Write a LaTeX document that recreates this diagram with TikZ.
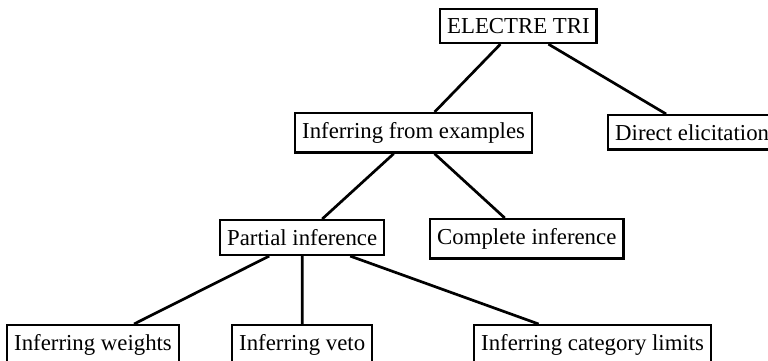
\documentclass[tikz,border=0pt]{standalone}
\usepackage{fontspec}
\setmainfont{Liberation Serif}
\usetikzlibrary{calc}

\tikzset{
  box/.style={draw, line width=1.2pt, inner xsep=3.5pt, inner ysep=4.6pt,
    anchor=north west, font=\fontsize{11.4}{13}\selectfont},
  link/.style={line width=1.35pt}
}

\begin{document}
\begin{tikzpicture}[x=0.5pt,y=-0.5pt]
  \useasboundingbox (0,0) rectangle (768,360);

  % Boxes
  \node[box] (electre) at (439,8) {ELECTRE TRI};
  \node[box] (ife) at (294,112) {Inferring from examples};
  \node[box] (direct) at (607,114) {Direct elicitation};
  \node[box] (partial) at (219,219) {Partial inference};
  \node[box] (complete) at (429,218) {Complete inference};
  \node[box] (weights) at (6,324) {Inferring weights};
  \node[box] (veto) at (231,324) {Inferring veto};
  \node[box] (limits) at (473,324) {Inferring category limits};

  % Lines
  \draw[link] ($(electre.south)+(-18,0)$) -- ($(ife.north)+(21,0)$);
  \draw[link] ($(electre.south)+(30,0)$) -- ($(direct.north)+(-26,0)$);
  \draw[link] ($(ife.south)+(-20,0)$) -- ($(partial.north)+(20,0)$);
  \draw[link] ($(ife.south)+(21,0)$) -- ($(complete.north)+(-22,0)$);
  \draw[link] ($(partial.south)+(-33,0)$) -- ($(weights.north)+(41,0)$);
  \draw[link] (partial.south) -- (veto.north);
  \draw[link] ($(partial.south)+(48,0)$) -- ($(limits.north)+(-54,0)$);
\end{tikzpicture}
\end{document}
